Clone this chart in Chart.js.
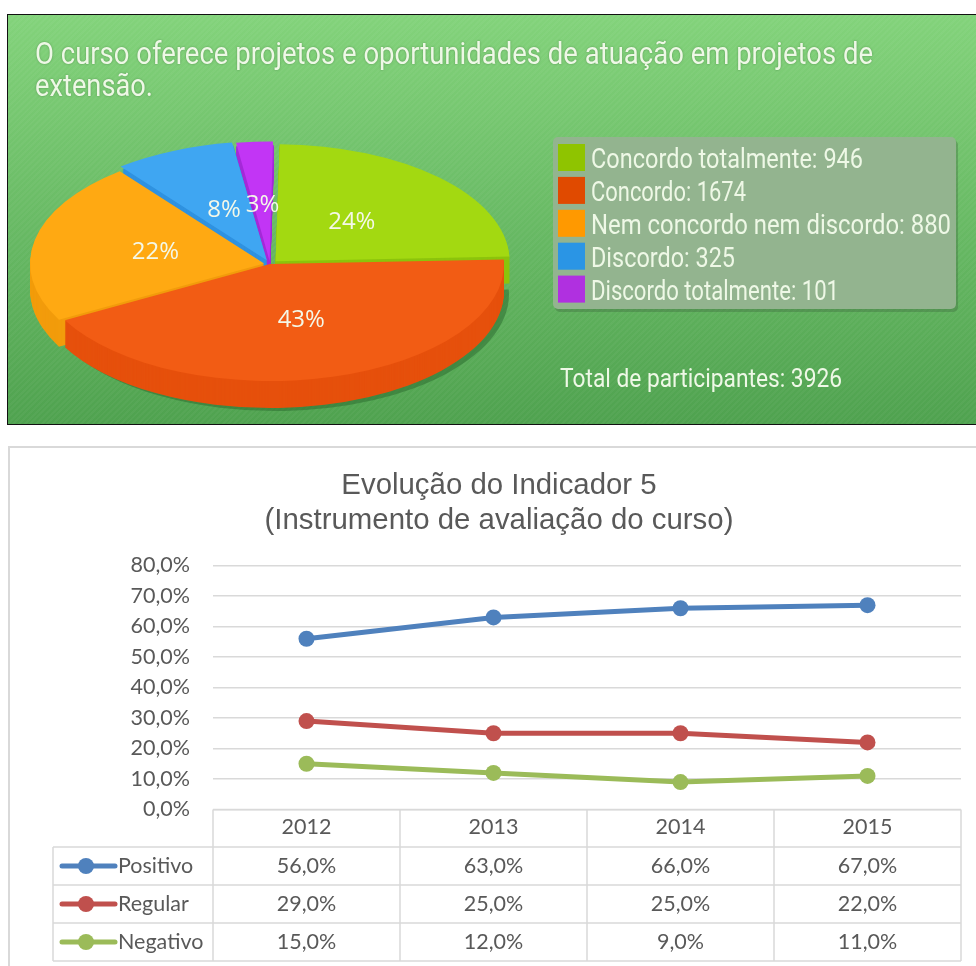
<!DOCTYPE html>
<html lang="pt"><head><meta charset="utf-8">
<script src="https://cdn.jsdelivr.net/npm/chart.js@4/dist/chart.umd.min.js"></script>
<style>
html,body{margin:0;padding:0;background:#fff;width:976px;height:966px;overflow:hidden}
#top{position:absolute;left:7px;top:14px;width:969px;height:411px;box-sizing:border-box;border:1px solid #111;border-right:none;overflow:hidden;
background:repeating-linear-gradient(135deg,rgba(255,255,255,.035) 0 2px,rgba(0,0,0,.0) 2px 4px),linear-gradient(#83d37b,#4fa24f)}
#top canvas{position:absolute;left:-1px;top:-1px}
#bot{position:absolute;left:8px;top:446px;width:968px;height:520px;box-sizing:border-box;border:2px solid #d9d9d9;border-right:none;border-bottom:none;background:#fff}
#lineCv{position:absolute;left:37px;top:446px}
</style></head><body>
<div id="top"><canvas id="pieCv" width="969" height="500"></canvas></div>
<div id="bot"></div>
<canvas id="lineCv" width="939" height="520"></canvas>
<script>
// ---- data, pie
const pieTitle = ["O curso oferece projetos e oportunidades de atuação em projetos de","extensão."];
const pieLabels = ["Concordo totalmente","Concordo","Nem concordo nem discordo","Discordo","Discordo totalmente"];
const pieValues = [946,1674,880,325,101];
const piePercents = ["24%","43%","22%","8%","3%"];
const pieTotal = "Total de participantes: 3926";
// ---- data, line
const lineTitle = ["Evolução do Indicador 5","(Instrumento de avaliação do curso)"];
const years = ["2012","2013","2014","2015"];
const positivo = [56,63,66,67];
const regular = [29,25,25,22];
const negativo = [15,12,9,11];
// ---- styles
const sliceColors = ["#a3d911","#f25c14","#ffa912","#3fa6f2","#c235f5"];
const sideColors = ["#8cc40c","#e6500c","#f29c0c","#2f92e0","#a52ad8"];
const swatchColors = ["#8fc400","#e04a00","#ff9900","#2a95e5","#b030e0"];
const squash = 0.5, depth = 27;
const sq = "Roboto, sans-serif", txt = "#eef8e6";

function fitText(ctx,s,x,y,w){ctx.fillText(s,x,y,w);}

const pie3d = {
  id:"pie3d",
  beforeDatasetsDraw(chart){
    const ctx = chart.ctx, arcs = chart.getDatasetMeta(0).data, a0 = arcs[1];
    ctx.save();
    ctx.translate(a0.x,a0.y); ctx.scale(1,squash); ctx.translate(-a0.x,-a0.y);
    const path = (a,dx,dy)=>{
      const m=(a.startAngle+a.endAngle)/2, o=(a.options.offset||0)/4;
      const cx=a.x+dx+Math.cos(m)*o, cy=a.y+dy+Math.sin(m)*o;
      ctx.beginPath();
      ctx.moveTo(cx,cy);
      ctx.arc(cx,cy,a.outerRadius,a.startAngle,a.endAngle);
      ctx.closePath();
    };
    ctx.fillStyle="rgba(45,110,50,.55)"; path(arcs[1],5,(depth+3)/squash); ctx.fill();
    for(const i of [4,3,0,2,1]){
      ctx.fillStyle=sideColors[i];
      for(let d=depth;d>=1;d--){path(arcs[i],0,d/squash);ctx.fill();}
    }
  },
  afterDatasetsDraw(chart){
    const ctx = chart.ctx, arcs = chart.getDatasetMeta(0).data;
    ctx.restore();
    // percentages
    ctx.save();
    ctx.font="24px 'Open Sans', sans-serif"; ctx.fillStyle="#f4f8e8"; ctx.textAlign="center"; ctx.textBaseline="middle";
    arcs.forEach((a,i)=>{
      const m=(a.startAngle+a.endAngle)/2, r=a.outerRadius*0.5;
      ctx.fillText(piePercents[i],a.x+Math.cos(m)*r,a.y+Math.sin(m)*r*squash);
    });
    // title
    ctx.textAlign="left"; ctx.textBaseline="alphabetic"; ctx.fillStyle=txt;
    ctx.font="400 32px "+sq;
    ctx.shadowColor="rgba(40,90,40,.5)"; ctx.shadowBlur=2;
    fitText(ctx,pieTitle[0],28,50,838);
    fitText(ctx,pieTitle[1],28,82,118);
    ctx.shadowBlur=0;
    // legend panel
    ctx.fillStyle="rgba(60,100,60,.35)"; ctx.beginPath(); ctx.roundRect(548,126,403,172,5); ctx.fill();
    ctx.fillStyle="#93b48f"; ctx.beginPath(); ctx.roundRect(546,123,403,172,5); ctx.fill();
    const widths=[272,155,360,144,248];
    pieLabels.forEach((l,i)=>{
      const y=130+i*32.9;
      ctx.fillStyle=swatchColors[i]; ctx.fillRect(551,y,27,27);
      ctx.fillStyle=txt; ctx.font="400 28px "+sq;
      fitText(ctx,l+": "+pieValues[i],584,y+24,widths[i]);
    });
    ctx.font="400 26px "+sq;
    fitText(ctx,pieTotal,553,373,282);
    ctx.restore();
  }
};

new Chart(document.getElementById("pieCv"),{
  type:"pie",
  data:{labels:pieLabels,datasets:[{data:pieValues,backgroundColor:sliceColors,borderWidth:0,clip:false,
    offset:[32,0,24,32,24]}]},
  options:{responsive:false,animation:false,rotation:1,
    layout:{padding:{left:13,top:0,right:456,bottom:0}},
    plugins:{legend:{display:false},tooltip:{enabled:false},title:{display:false}},
    events:[]},
  plugins:[pie3d]
});

// ---- line chart with data table
const pctFmt = v => v.toFixed(1).replace(".",",")+"%";
const cal = "Lato, Carlito, sans-serif", gray="#595959", rule="#d9d9d9";
const dataTable = {
  id:"dataTable",
  afterDraw(chart){
    const ctx=chart.ctx, x=chart.scales.x, area=chart.chartArea;
    const band=x.getPixelForValue(1)-x.getPixelForValue(0);
    const left=area.left, right=area.right, top=area.bottom, rowH=[37.5,38,38,38];
    const labelLeft=16;
    ctx.save();
    ctx.strokeStyle=rule; ctx.lineWidth=1.5;
    let y=top;
    const ys=[y]; rowH.forEach(h=>{y+=h;ys.push(y);});
    ys.forEach((yy,i)=>{ctx.beginPath();ctx.moveTo(i===0?left:labelLeft,yy);ctx.lineTo(right,yy);ctx.stroke();});
    ctx.beginPath();ctx.moveTo(labelLeft,ys[1]);ctx.lineTo(labelLeft,ys[4]);ctx.stroke();
    for(let i=0;i<=years.length;i++){
      const xx=left+band*i;
      ctx.beginPath();ctx.moveTo(xx,ys[0]);ctx.lineTo(xx,ys[4]);ctx.stroke();
    }
    ctx.font="21.5px "+cal; ctx.fillStyle=gray; ctx.textBaseline="middle";
    chart.data.datasets.forEach((ds,r)=>{
      const cy=(ys[r+1]+ys[r+2])/2;
      ctx.textAlign="center";
      ds.data.forEach((v,c)=>{ctx.fillStyle=gray;ctx.fillText(pctFmt(v),x.getPixelForValue(c),cy);});
      ctx.strokeStyle=ds.borderColor; ctx.lineWidth=5; ctx.lineCap="round";
      ctx.beginPath();ctx.moveTo(labelLeft+9,cy);ctx.lineTo(labelLeft+62,cy);ctx.stroke();
      ctx.fillStyle=ds.borderColor; ctx.beginPath();ctx.arc(labelLeft+33,cy,8,0,Math.PI*2);ctx.fill();
      ctx.fillStyle=gray; ctx.textAlign="left";
      ctx.fillText(ds.label,labelLeft+65,cy);
    });
    ctx.restore();
  }
};
const mk=(label,data,c)=>({label,data,borderColor:c,backgroundColor:c,pointBackgroundColor:c,pointBorderColor:c,
  borderWidth:5,pointRadius:8,pointBorderWidth:0,tension:0,fill:false,clip:false});
new Chart(document.getElementById("lineCv"),{
  type:"line",
  data:{labels:years,datasets:[mk("Positivo",positivo,"#4f81bd"),mk("Regular",regular,"#c0504d"),mk("Negativo",negativo,"#9bbb59")]},
  options:{responsive:false,animation:false,events:[],
    layout:{padding:{left:0,right:15,top:22,bottom:119.5}},
    plugins:{legend:{display:false},tooltip:{enabled:false},
      title:{display:true,text:lineTitle,color:gray,font:{family:"'Liberation Sans', Arial, sans-serif",size:29.4,weight:"normal",lineHeight:1.2},padding:{top:0,bottom:27}}},
    scales:{
      x:{offset:true,grid:{display:false},border:{display:false},
        ticks:{color:gray,font:{family:cal,size:21.5},padding:-3,maxRotation:0},
        afterFit(s){s.height=37;}},
      y:{min:0,max:80,grid:{color:rule,lineWidth:1.5,drawTicks:false},border:{display:false},
        ticks:{stepSize:10,color:gray,font:{family:cal,size:21.5},padding:23,callback:v=>pctFmt(v)},
        afterFit(s){s.width=176;}}
    }},
  plugins:[dataTable]
});
</script>
</body></html>
